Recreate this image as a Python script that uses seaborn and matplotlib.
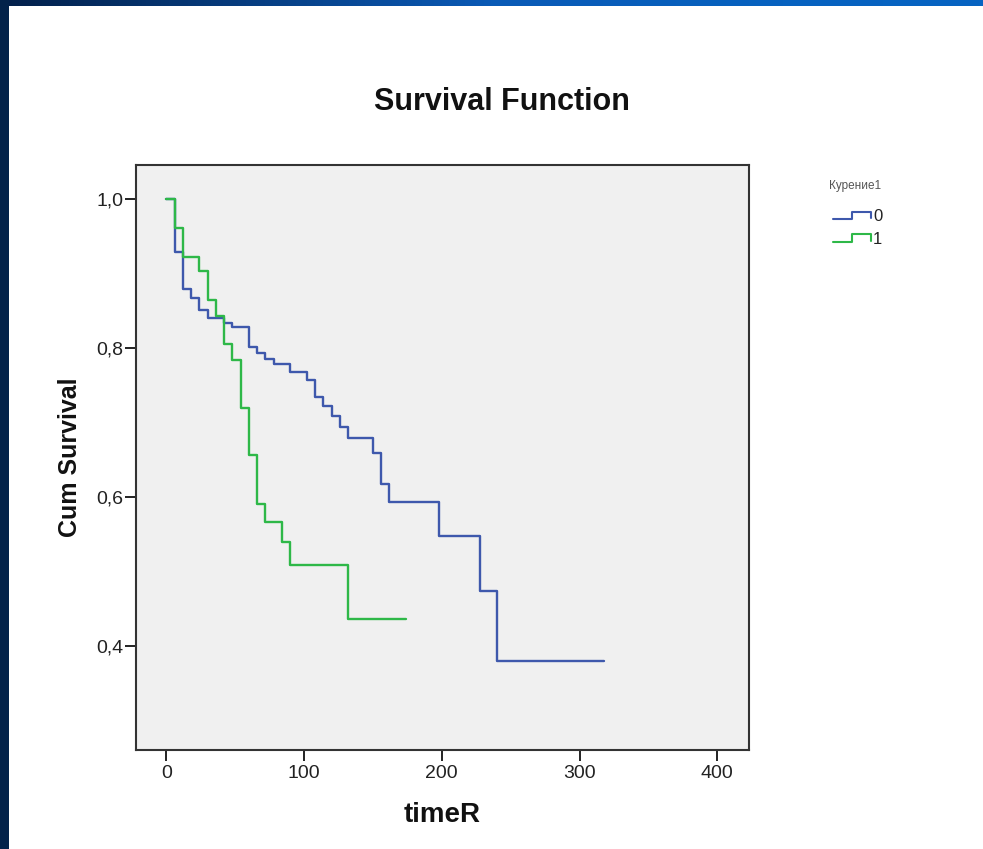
import numpy as np
import pandas as pd
import matplotlib
matplotlib.use("Agg")
import matplotlib.pyplot as plt
import seaborn as sns
from matplotlib.colors import LinearSegmentedColormap
from matplotlib.legend_handler import HandlerBase
from matplotlib.lines import Line2D
from matplotlib.patches import Rectangle

# Kaplan-Meier step values per group (time, cumulative survival)
time_0 = [0, 6, 12, 18, 24, 30, 42, 48, 60, 66, 72, 78, 90, 102, 108, 114,
          120, 126, 132, 150, 156, 162, 198, 228, 240, 318]
surv_0 = [1.0, 0.929, 0.879, 0.867, 0.851, 0.840, 0.834, 0.829, 0.802, 0.794,
          0.786, 0.778, 0.768, 0.757, 0.734, 0.722, 0.709, 0.694, 0.679, 0.659,
          0.617, 0.593, 0.547, 0.474, 0.379, 0.379]

time_1 = [0, 6, 12, 24, 30, 36, 42, 48, 54, 60, 66, 72, 84, 90, 132, 174]
surv_1 = [1.0, 0.961, 0.923, 0.903, 0.864, 0.843, 0.805, 0.784, 0.720, 0.657,
          0.591, 0.567, 0.539, 0.508, 0.436, 0.436]

groups = ["0", "1"]
x_ticks = [0, 100, 200, 300, 400]
y_ticks = [0.4, 0.6, 0.8, 1.0]
y_tick_labels = ["0,4", "0,6", "0,8", "1,0"]

df = pd.concat([
    pd.DataFrame({"timeR": time_0, "Cum Survival": surv_0, "Курение1": groups[0]}),
    pd.DataFrame({"timeR": time_1, "Cum Survival": surv_1, "Курение1": groups[1]}),
], ignore_index=True)

sns.set_theme(style="white")
plt.rcParams["font.family"] = ["Liberation Sans", "DejaVu Sans"]

W, H = 983, 849
fig = plt.figure(figsize=(W / 100, H / 100), dpi=100)
fig.patch.set_facecolor("white")

# slide decoration: dark left strip and gradient top strip
fig.patches.append(Rectangle((0, 0), 9 / W, 1, transform=fig.transFigure,
                             facecolor="#03224a", edgecolor="none", zorder=0))
bar = fig.add_axes([0, 1 - 6 / H, 1, 6 / H])
grad_cmap = LinearSegmentedColormap.from_list(
    "slide", [(0, "#03204a"), (0.5, "#0a5ab6"), (0.8, "#0662c0"), (1, "#0664c2")])
bar.imshow(np.linspace(0, 1, 256)[None, :], aspect="auto", cmap=grad_cmap)
bar.set_axis_off()

ax = fig.add_axes([136 / W, (H - 750) / H, (749 - 136) / W, (750 - 165) / H])
ax.set_facecolor("#f0f0f0")

palette = {"0": "#3e58ac", "1": "#2eb848"}
sns.lineplot(data=df, x="timeR", y="Cum Survival", hue="Курение1",
             palette=palette, hue_order=groups, drawstyle="steps-post",
             estimator=None, sort=False, linewidth=1.7, ax=ax, legend=False)

ax.set_xlim(-22, 423)
ax.set_ylim(0.26, 1.046)
ax.set_xticks(x_ticks)
ax.set_xticklabels([str(v) for v in x_ticks])
ax.set_yticks(y_ticks)
ax.set_yticklabels(y_tick_labels)
ax.tick_params(axis="both", direction="out", length=8, width=1.4,
               colors="#222222", labelsize=14, bottom=True, left=True)
ax.tick_params(axis="x", pad=3)
ax.tick_params(axis="y", pad=1)
for s in ax.spines.values():
    s.set_visible(True)
    s.set_color("#333333")
    s.set_linewidth(1.5)

ax.set_xlabel("timeR", fontsize=20, fontweight="bold", color="#111111", labelpad=14)
ax.set_ylabel("Cum Survival", fontsize=18, fontweight="bold", color="#111111", labelpad=10)

fig.text(502 / W, 1 - 102 / H, "Survival Function", ha="center", va="center",
         fontsize=22, fontweight="bold", color="#111111")


class StepHandler(HandlerBase):
    def create_artists(self, legend, orig_handle, xdescent, ydescent,
                       width, height, fontsize, trans):
        x0 = -xdescent
        y0 = -ydescent
        xs = [x0, x0 + 0.5 * width, x0 + 0.5 * width, x0 + width, x0 + width]
        ys = [y0 + 0.15 * height, y0 + 0.15 * height, y0 + 0.8 * height,
              y0 + 0.8 * height, y0 + 0.25 * height]
        ln = Line2D(xs, ys, color=orig_handle.get_color(), linewidth=1.5)
        ln.set_transform(trans)
        return [ln]


# legend heading and entries
fig.text(829 / W, 1 - 186 / H, "Курение1", ha="left", va="center",
         fontsize=8.5, color="#555555")
handles = [Line2D([], [], color=palette[g]) for g in groups]
leg = fig.legend(handles, groups, loc="upper left",
                 bbox_to_anchor=(833 / W, 1 - 209 / H), frameon=False,
                 fontsize=12, handlelength=2.25, borderpad=0,
                 handletextpad=0.15, labelspacing=0.45, borderaxespad=0,
                 handler_map={Line2D: StepHandler()})
for t in leg.get_texts():
    t.set_color("#222222")

fig.savefig("out.png", dpi=100, facecolor="white")
